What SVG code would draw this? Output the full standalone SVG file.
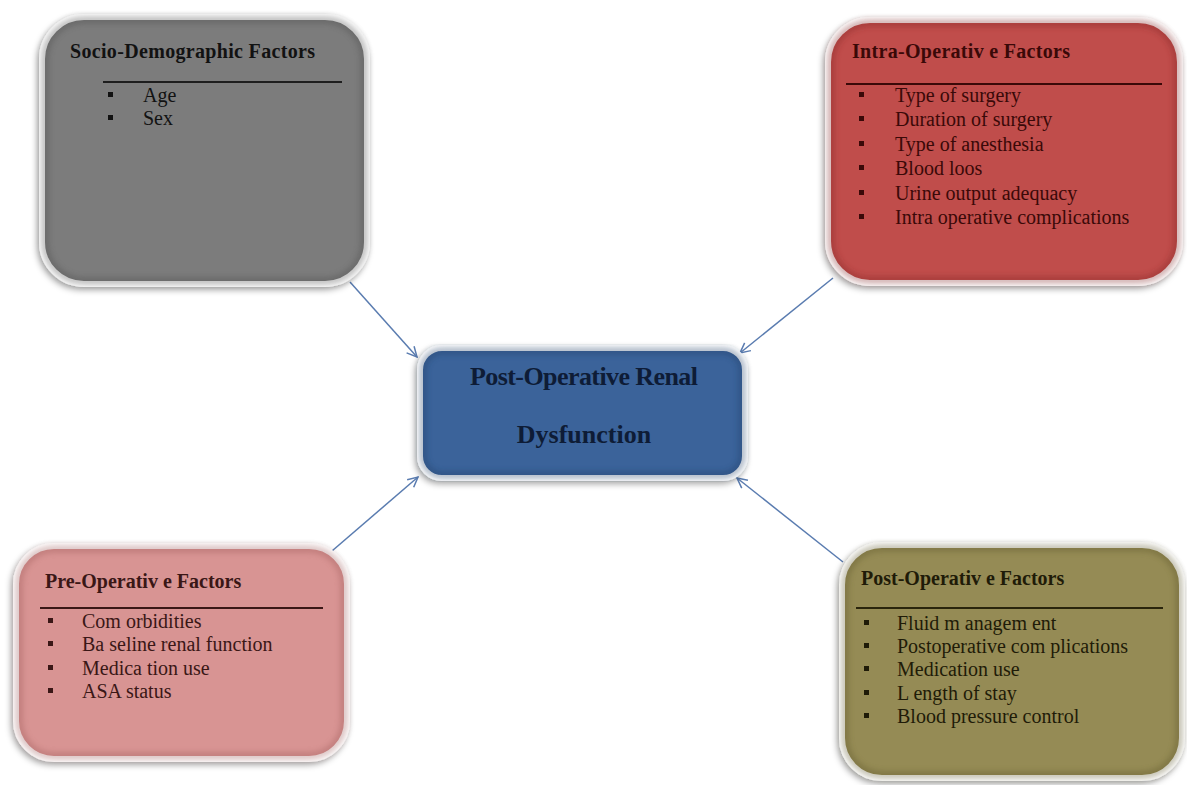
<svg xmlns="http://www.w3.org/2000/svg" width="1187" height="785" viewBox="0 0 1187 785">
<defs>
<filter id="sh" x="-10%" y="-10%" width="125%" height="125%">
<feDropShadow dx="-2" dy="3" stdDeviation="3" flood-color="#000" flood-opacity="0.35"/>
</filter>
<filter id="blur" x="-5%" y="-5%" width="110%" height="110%">
<feGaussianBlur stdDeviation="3"/>
</filter>
<marker id="arr" viewBox="0 0 12 12" refX="11" refY="6" markerWidth="12" markerHeight="12" markerUnits="userSpaceOnUse" orient="auto">
<path d="M1,1 L11,6 L1,11" fill="none" stroke="#5a7cb0" stroke-width="1.5"/>
</marker>
<style>
.ring{stroke:#ffffff;stroke-width:6}
.edge{fill:none;stroke-width:6;opacity:0.45}
.t{font-family:"Liberation Serif","Times New Roman",serif;font-size:20px}
.h{font-family:"Liberation Serif","Times New Roman",serif;font-size:20px;font-weight:bold}
.c{font-family:"Liberation Serif","Times New Roman",serif;font-size:26px;font-weight:bold;fill:#0e1c36}
.conn{stroke:#5a7cb0;stroke-width:1.5;fill:none;marker-end:url(#arr)}
</style>
</defs>
<rect width="1187" height="785" fill="#ffffff"/>

<g id="connectors">
<line class="conn" x1="350" y1="282" x2="417" y2="357"/>
<line class="conn" x1="833" y1="278" x2="740" y2="353"/>
<line class="conn" x1="325" y1="557" x2="418" y2="477"/>
<line class="conn" x1="843" y1="562" x2="737" y2="478"/>
</g>

<g id="socio">
<rect x="42" y="17" width="325" height="267" rx="42" fill="#7b7b7b" class="ring" filter="url(#sh)"/>
<rect x="45" y="20" width="319" height="261" rx="39" class="edge" stroke="#4a4a4a" filter="url(#blur)"/>
<text class="h" x="70" y="58" fill="#121212" textLength="245">Socio-Demographic Factors</text>
<line x1="103" y1="82" x2="342" y2="82" stroke="#1e1e1e" stroke-width="2"/>
<g fill="#121212">
<rect x="108" y="92" width="5" height="5"/>
<rect x="108" y="115" width="5" height="5"/>
</g>
<g class="t" fill="#121212">
<text x="143" y="102">Age</text>
<text x="143" y="125">Sex</text>
</g>
</g>

<g id="intra">
<rect x="828" y="20" width="352" height="263" rx="42" fill="#c04e4b" class="ring" filter="url(#sh)"/>
<rect x="831" y="23" width="346" height="257" rx="39" class="edge" stroke="#7e2422" filter="url(#blur)"/>
<text class="h" x="852" y="58" fill="#3a0908" textLength="218">Intra-Operativ e Factors</text>
<line x1="846" y1="84" x2="1162" y2="84" stroke="#3a0908" stroke-width="2"/>
<g fill="#3a0908">
<rect x="859" y="92" width="5" height="5"/>
<rect x="859" y="116" width="5" height="5"/>
<rect x="859" y="141" width="5" height="5"/>
<rect x="859" y="165" width="5" height="5"/>
<rect x="859" y="190" width="5" height="5"/>
<rect x="859" y="214" width="5" height="5"/>
</g>
<g class="t" fill="#3a0908">
<text x="895" y="102">Type of surgery</text>
<text x="895" y="126">Duration of surgery</text>
<text x="895" y="151">Type of anesthesia</text>
<text x="895" y="175">Blood loos</text>
<text x="895" y="200">Urine  output adequacy</text>
<text x="895" y="224">Intra operative complications</text>
</g>
</g>

<g id="center">
<rect x="420" y="348" width="325" height="130" rx="22" fill="#3a639a" class="ring" filter="url(#sh)"/>
<rect x="423" y="351" width="319" height="124" rx="19" class="edge" stroke="#1f3b63" filter="url(#blur)"/>
<text class="c" x="584" y="385" text-anchor="middle" textLength="228">Post-Operative  Renal</text>
<text class="c" x="584" y="443" text-anchor="middle">Dysfunction</text>
</g>

<g id="pre">
<rect x="16" y="546" width="331" height="213" rx="38" fill="#d89493" class="ring" filter="url(#sh)"/>
<rect x="19" y="549" width="325" height="207" rx="35" class="edge" stroke="#9a5655" filter="url(#blur)"/>
<text class="h" x="45" y="588" fill="#3a1716">Pre-Operativ e Factors</text>
<line x1="40" y1="608" x2="323" y2="608" stroke="#3a1716" stroke-width="2"/>
<g fill="#3a1716">
<rect x="48" y="618" width="5" height="5"/>
<rect x="48" y="641" width="5" height="5"/>
<rect x="48" y="665" width="5" height="5"/>
<rect x="48" y="688" width="5" height="5"/>
</g>
<g class="t" fill="#3a1716">
<text x="82" y="628">Com orbidities</text>
<text x="82" y="651">Ba seline renal function</text>
<text x="82" y="675">Medica tion use</text>
<text x="82" y="698">ASA  status</text>
</g>
</g>

<g id="post">
<rect x="842" y="545" width="340" height="233" rx="40" fill="#958b55" class="ring" filter="url(#sh)"/>
<rect x="845" y="548" width="334" height="227" rx="37" class="edge" stroke="#5a5228" filter="url(#blur)"/>
<text class="h" x="861" y="585" fill="#1f1b08">Post-Operativ e Factors</text>
<line x1="856" y1="608" x2="1163" y2="608" stroke="#2a250c" stroke-width="2"/>
<g fill="#1f1b08">
<rect x="864" y="620" width="5" height="5"/>
<rect x="864" y="643" width="5" height="5"/>
<rect x="864" y="666" width="5" height="5"/>
<rect x="864" y="690" width="5" height="5"/>
<rect x="864" y="713" width="5" height="5"/>
</g>
<g class="t" fill="#1f1b08">
<text x="897" y="630">Fluid  m anagem ent</text>
<text x="897" y="653">Postoperative com plications</text>
<text x="897" y="676">Medication use</text>
<text x="897" y="700">L ength of stay</text>
<text x="897" y="723">Blood pressure control</text>
</g>
</g>
</svg>
